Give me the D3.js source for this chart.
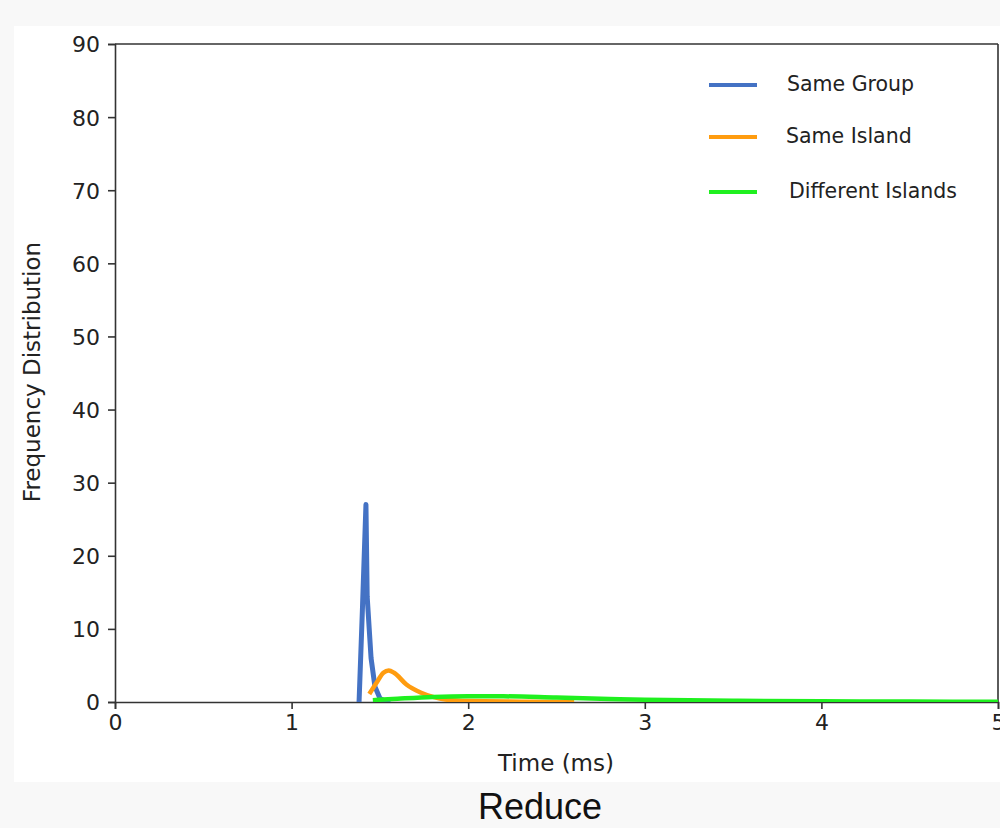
<!DOCTYPE html>
<html><head><meta charset="utf-8">
<script src="https://cdn.jsdelivr.net/npm/d3@7"></script>
<style>body{margin:0;background:#f8f8f8;}svg{display:block;}</style>
</head><body>
<svg id="c" width="1000" height="828"></svg>
<script>
const seriesNames = ["Same Group", "Same Island", "Different Islands"];
const seriesColors = ["#4472c4", "#ff9c0f", "#1ff01f"];
const xTicks = [0, 1, 2, 3, 4, 5];
const yTicks = [0, 10, 20, 30, 40, 50, 60, 70, 80, 90];
// [time (ms), frequency]
const sameGroup = [[1.382,0],[1.40,12],[1.421,27],[1.428,14.4],[1.45,6],[1.472,2.1],[1.50,0.5],[1.53,0.1],[1.56,0]];
const sameIsland = [[1.44,1.1],[1.48,2.6],[1.52,4.0],[1.55,4.3],[1.58,4.0],[1.65,2.4],[1.73,1.3],[1.80,0.7],[1.88,0.3],[2.0,0.12],[2.3,0.05],[2.6,0]];
const diffIslands = [[1.46,0.25],[1.6,0.45],[1.8,0.7],[2.0,0.8],[2.2,0.78],[2.5,0.6],[2.8,0.42],[3.0,0.32],[3.5,0.18],[4.0,0.1],[4.5,0.06],[5.0,0.04]];

const svg = d3.select("#c");
svg.append("rect").attr("x",14).attr("y",26).attr("width",986).attr("height",756).attr("fill","#ffffff");

const L=115, R=998, T=44, B=702;
const x = d3.scaleLinear().domain([0,5]).range([L,R]);
const y = d3.scaleLinear().domain([0,90]).range([B,T]);

const line = d3.line().x(d=>x(d[0])).y(d=>y(d[1]));
const smooth = d3.line().x(d=>x(d[0])).y(d=>y(d[1])).curve(d3.curveMonotoneX);

const axisColor = "#333";
const tickFont = "DejaVu Sans";

// spines
svg.append("line").attr("x1",L).attr("x2",R).attr("y1",T).attr("y2",T).attr("stroke",axisColor).attr("stroke-width",1.6);
svg.append("line").attr("x1",R).attr("x2",R).attr("y1",T).attr("y2",B).attr("stroke",axisColor).attr("stroke-width",1.6);

const gx = svg.append("g").attr("transform",`translate(0,${B})`)
  .call(d3.axisBottom(x).tickValues(xTicks).tickFormat(d3.format("d")).tickSizeOuter(0).tickSize(7).tickPadding(5));
const gy = svg.append("g").attr("transform",`translate(${L},0)`)
  .call(d3.axisLeft(y).tickValues(yTicks).tickFormat(d3.format("d")).tickSizeOuter(0).tickSize(7).tickPadding(8));
[gx,gy].forEach(g=>{
  g.select(".domain").attr("stroke",axisColor).attr("stroke-width",1.6);
  g.selectAll(".tick line").attr("stroke",axisColor).attr("stroke-width",1.6);
  g.selectAll(".tick text").attr("fill","#222").attr("font-family",tickFont).attr("font-size",22);
});
gy.selectAll(".tick text").attr("dy","0.36em");

// series
svg.append("clipPath").attr("id","pc").append("rect").attr("x",L).attr("y",T-2).attr("width",R-L+4).attr("height",B-T+2);
const plot = svg.append("g").attr("clip-path","url(#pc)");
plot.append("path").datum(sameGroup).attr("d",line).attr("fill","none").attr("stroke",seriesColors[0]).attr("stroke-width",5).attr("stroke-linejoin","round");
plot.append("path").datum(sameIsland).attr("d",smooth).attr("fill","none").attr("stroke",seriesColors[1]).attr("stroke-width",4.5).attr("stroke-linejoin","round");
plot.append("path").datum(diffIslands).attr("d",smooth).attr("fill","none").attr("stroke",seriesColors[2]).attr("stroke-width",4.5).attr("stroke-linejoin","round");

// labels
svg.append("text").attr("x",556).attr("y",771).attr("text-anchor","middle")
  .attr("font-family","DejaVu Sans").attr("font-size",23).attr("fill","#222").text("Time (ms)");
svg.append("text").attr("transform","translate(40,372) rotate(-90)").attr("text-anchor","middle")
  .attr("font-family","DejaVu Sans").attr("font-size",23).attr("fill","#222").text("Frequency Distribution");
svg.append("text").attr("x",540).attr("y",819).attr("text-anchor","middle")
  .attr("font-family","Liberation Sans").attr("font-size",36).attr("fill","#111").text("Reduce");

// legend
const legY = [84, 136, 191];
const legTX = [787, 786, 789];
const leg = svg.append("g");
seriesNames.forEach((n,i)=>{
  leg.append("line").attr("x1",709).attr("x2",757).attr("y1",legY[i]+1).attr("y2",legY[i]+1).attr("stroke",seriesColors[i]).attr("stroke-width",4);
  leg.append("text").attr("x",legTX[i]).attr("y",legY[i]).attr("dy","0.35em")
    .attr("font-family","DejaVu Sans").attr("font-size",20.5).attr("fill","#222").text(n);
});
</script>
</body></html>
